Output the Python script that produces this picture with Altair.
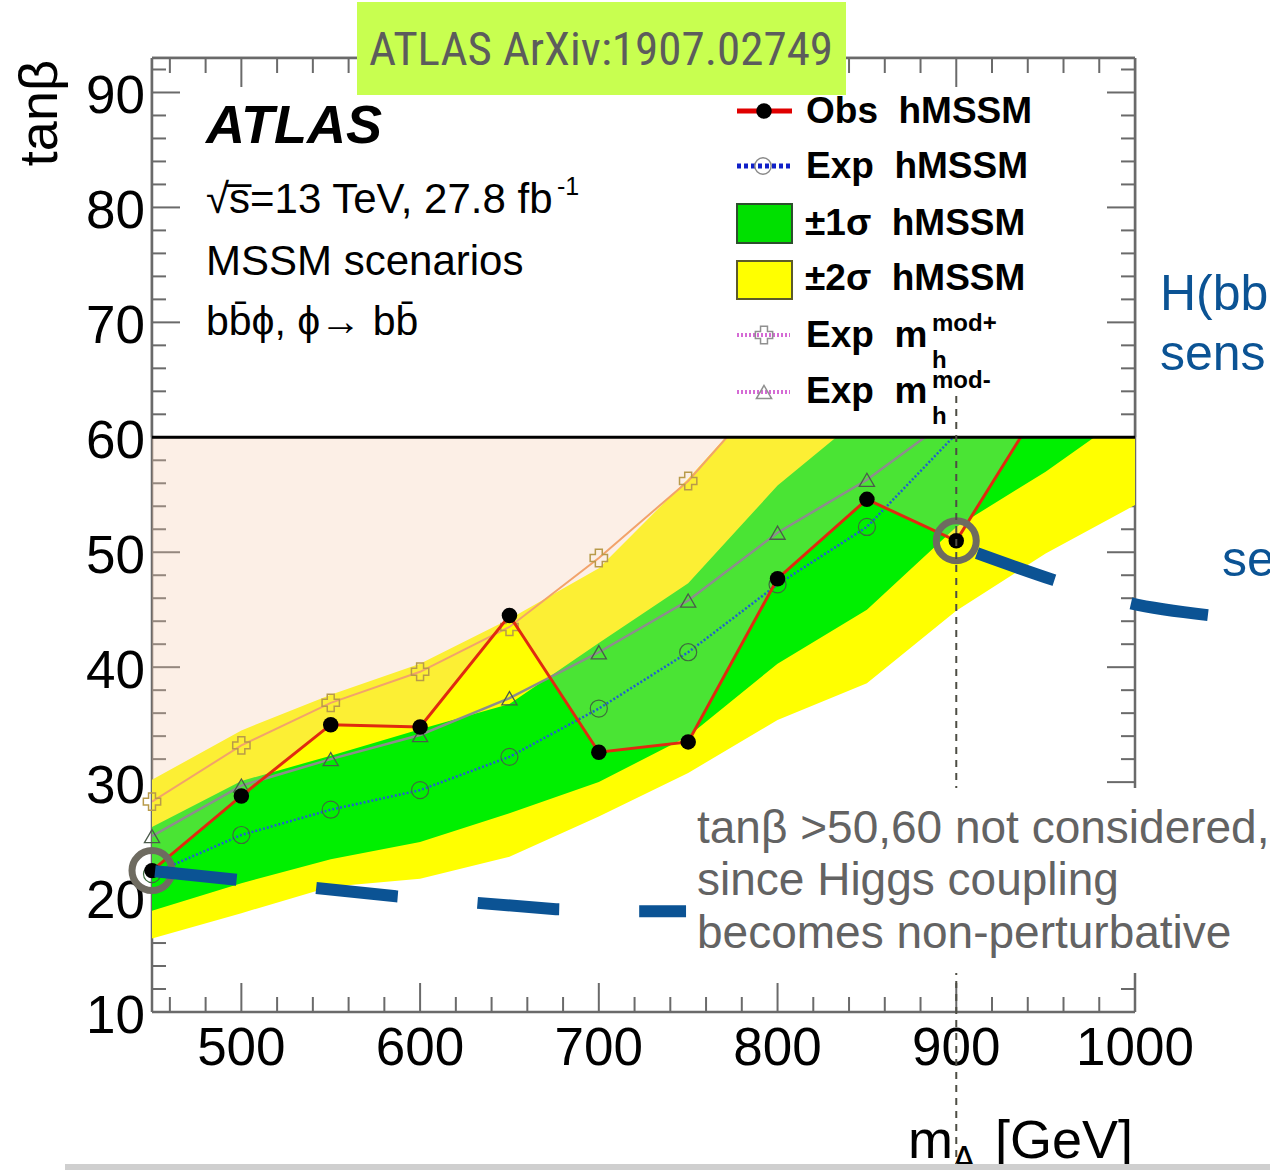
import altair as alt
import pandas as pd

# ---------------------------------------------------------------------------
# 95% CL limits on tan(beta) versus m_A, b b phi, phi -> b b search
# ---------------------------------------------------------------------------
m_A = [450, 500, 550, 600, 650, 700, 750, 800, 850, 900, 950, 1000]
obs_hmssm = [22.3, 28.8, 35.0, 34.8, 44.5, 32.6, 33.5, 47.7, 54.6, 51.0, 63.5, 72.0]
exp_hmssm = [22.0, 25.4, 27.6, 29.3, 32.2, 36.4, 41.3, 47.2, 52.2, 60.3, 68.0, 76.0]
one_sigma_lo = [18.8, 21.2, 23.3, 24.8, 27.3, 30.0, 34.0, 40.3, 45.0, 52.2, 57.0, 62.5]
one_sigma_hi = [26.1, 30.1, 32.3, 34.6, 36.8, 42.1, 47.3, 55.8, 62.2, 70.0, 77.0, 84.0]
two_sigma_lo = [16.4, 18.6, 20.9, 21.6, 23.5, 27.0, 30.8, 35.4, 38.6, 44.9, 49.9, 54.1]
two_sigma_hi = [30.2, 34.5, 37.6, 40.3, 44.2, 48.6, 56.4, 65.0, 73.0, 81.0, 89.0, 97.0]

m_mhmod_plus = [450, 500, 550, 600, 650, 700, 750, 800]
exp_mhmod_plus = [28.3, 33.2, 36.9, 39.6, 43.5, 49.5, 56.2, 65.0]
m_mhmod_minus = [450, 500, 550, 600, 650, 700, 750, 800, 850, 900]
exp_mhmod_minus = [25.3, 29.7, 32.0, 34.1, 37.3, 41.3, 45.8, 51.7, 56.3, 62.0]

tanb_cut = 60            # above this tan(beta) the coupling is non-perturbative
circled_masses = [450, 900]

# pointer curves from the circled points towards the notes (m_A, tan(beta))
ptr1_m = [451.7, 586.5, 676.0, 721.4, 748.8]
ptr1_t = [22.25, 20.07, 18.94, 18.77, 18.77]
ptr2_m = [911.6, 954.7, 997.2, 1040.8]
ptr2_t = [49.92, 47.57, 45.57, 44.53]
guide_m = 900
guide_t = [63.6, -3.4]

x_tick_labels = [500, 600, 700, 800, 900, 1000]
y_tick_labels = [10, 20, 30, 40, 50, 60, 70, 80, 90]
x_major = [500, 600, 700, 800, 900]
x_minor = [v for v in range(460, 1000, 20) if v % 100]
y_major = [20, 30, 40, 50, 60, 70, 80, 90]
y_minor = [v for v in range(12, 93, 2) if v % 10]

X_DOM = [450, 1000]
Y_DOM = [10, 93]

# ---------------------------------------------------------------------------
OX, OY = 152, 58          # plot origin on the page
W, H = 983, 954           # plot area
SANS = "Liberation Sans, Arial, Helvetica, sans-serif"
NARROW = "Liberation Sans Narrow, Roboto Condensed, DejaVu Sans Condensed, Liberation Sans, sans-serif"
FRAME = "#6a6a6a"
BLUE = "#0b5394"
NOTE = "#636363"

XS = alt.Scale(domain=X_DOM, nice=False, zero=False)
YS = alt.Scale(domain=Y_DOM, nice=False, zero=False)


def X(f):
    return alt.X(f, type="quantitative", scale=XS, axis=None)


def Y(f):
    return alt.Y(f, type="quantitative", scale=YS, axis=None)


ONE = pd.DataFrame({"k": [0]})


def px(v):
    return alt.value(v - OX)


def py(v):
    return alt.value(v - OY)


def text(s, x, y, size, color="black", weight="normal", style="normal",
         align="left", font=SANS, angle=0):
    return alt.Chart(ONE).mark_text(
        text=s, fontSize=size, color=color, fontWeight=weight, fontStyle=style,
        align=align, baseline="alphabetic", font=font, angle=angle,
    ).encode(x=px(x), y=py(y))


def hline(x1, x2, y, color, width, dash=None):
    kw = dict(color=color, strokeWidth=width, strokeCap="butt")
    if dash:
        kw["strokeDash"] = dash
    return alt.Chart(ONE).mark_rule(**kw).encode(x=px(x1), x2=px(x2), y=py(y))


def box(x1, y1, x2, y2, fill, stroke=None, sw=0):
    kw = dict(fill=fill, opacity=1)
    if stroke:
        kw.update(stroke=stroke, strokeWidth=sw)
    return alt.Chart(ONE).mark_rect(**kw).encode(x=px(x1), x2=px(x2), y=py(y1), y2=py(y2))


def symbol(x, y, shape, size, filled, color, sw=1.5):
    return alt.Chart(ONE).mark_point(
        shape=shape, size=size, filled=filled, color=color, strokeWidth=sw, opacity=1
    ).encode(x=px(x), y=py(y))


# ---- tables ---------------------------------------------------------------
limits = pd.DataFrame({
    "m": m_A, "obs": obs_hmssm, "exp": exp_hmssm,
    "lo1": one_sigma_lo, "hi1": one_sigma_hi,
    "lo2": two_sigma_lo, "hi2": two_sigma_hi,
    "cut": [tanb_cut] * len(m_A),
})
mhmod_p = pd.DataFrame({"m": m_mhmod_plus, "t": exp_mhmod_plus})
mhmod_m = pd.DataFrame({"m": m_mhmod_minus, "t": exp_mhmod_minus})
ptr1 = pd.DataFrame({"m": ptr1_m, "t": ptr1_t})
ptr2 = pd.DataFrame({"m": ptr2_m, "t": ptr2_t})
guide = pd.DataFrame({"m": [guide_m], "t0": [guide_t[0]], "t1": [guide_t[1]]})

frame_v = pd.DataFrame({"m": X_DOM, "t0": [Y_DOM[0]] * 2, "t1": [Y_DOM[1]] * 2})
frame_v_top = pd.DataFrame({"m": X_DOM, "t0": [tanb_cut] * 2, "t1": [Y_DOM[1]] * 2})
frame_h = pd.DataFrame({"t": Y_DOM, "m0": [X_DOM[0]] * 2, "m1": [X_DOM[1]] * 2})
cover = pd.DataFrame({"m0": [X_DOM[0]], "m1": [X_DOM[1]], "t0": [tanb_cut], "t1": [Y_DOM[1]]})
cut_line = pd.DataFrame({"t": [tanb_cut]})

xmaj = pd.DataFrame({"m": x_major})
xmin = pd.DataFrame({"m": x_minor})
ymaj = pd.DataFrame({"t": y_major})
ymin = pd.DataFrame({"t": y_minor})
xlab = pd.DataFrame({"m": x_tick_labels})
ylab = pd.DataFrame({"t": y_tick_labels})


def ticks(upper_only=False):
    out = []
    for df, ln in ((xmaj, 29), (xmin, 15)):
        if not upper_only:
            out.append(alt.Chart(df).mark_rule(color=FRAME, strokeWidth=2).encode(
                x=X("m"), y=alt.value(H), y2=alt.value(H - ln)))
        out.append(alt.Chart(df).mark_rule(color=FRAME, strokeWidth=2).encode(
            x=X("m"), y=alt.value(0), y2=alt.value(ln)))
    for df, ln in ((ymaj, 28), (ymin, 14)):
        base = alt.Chart(df)
        if upper_only:
            base = base.transform_filter(f"datum.t > {tanb_cut}")
        out.append(base.mark_rule(color=FRAME, strokeWidth=2).encode(
            y=Y("t"), x=alt.value(0), x2=alt.value(ln)))
        out.append(base.mark_rule(color=FRAME, strokeWidth=2).encode(
            y=Y("t"), x=alt.value(W), x2=alt.value(W - ln)))
    return out


def frame(upper_only=False):
    v = frame_v_top if upper_only else frame_v
    out = [alt.Chart(v).mark_rule(color=FRAME, strokeWidth=2.5).encode(
        x=X("m"), y=Y("t0"), y2="t1")]
    h = frame_h if not upper_only else frame_h[frame_h["t"] == Y_DOM[1]]
    out.append(alt.Chart(h).mark_rule(color=FRAME, strokeWidth=2.5).encode(
        y=Y("t"), x=X("m0"), x2="m1"))
    return out


layers = []
layers += frame() + ticks()

# expected bands
layers.append(alt.Chart(limits).mark_area(color="#ffff00", opacity=1, clip=True).encode(
    x=X("m"), y=Y("lo2"), y2="hi2"))
layers.append(alt.Chart(limits).mark_area(color="#00f000", opacity=1, clip=True).encode(
    x=X("m"), y=Y("lo1"), y2="hi1"))
# excluded region above the observed limit
layers.append(alt.Chart(limits).mark_area(color="#f5cbad", opacity=0.3, clip=True).encode(
    x=X("m"), y=Y("obs"), y2="cut"))

# m_h^mod+ expected
layers.append(alt.Chart(mhmod_p).mark_line(color="#f2a36b", strokeWidth=2, clip=True).encode(
    x=X("m"), y=Y("t")))
layers.append(alt.Chart(mhmod_p).transform_filter(f"datum.t < {tanb_cut}").mark_point(
    shape="cross", filled=False, color="#b89a4a", size=300, strokeWidth=1.5, opacity=1
).encode(x=X("m"), y=Y("t")))
# m_h^mod- expected
layers.append(alt.Chart(mhmod_m).mark_line(color="#8d8d8d", strokeWidth=2.5, clip=True).encode(
    x=X("m"), y=Y("t")))
layers.append(alt.Chart(mhmod_m).transform_filter(f"datum.t < {tanb_cut}").mark_point(
    shape="triangle-up", filled=False, color="#4b5b4b", size=230, strokeWidth=1.3, opacity=1
).encode(x=X("m"), y=Y("t")))
# hMSSM expected
layers.append(alt.Chart(limits).mark_line(color="#2060d0", strokeWidth=2.5, strokeDash=[2, 2],
                                          clip=True).encode(x=X("m"), y=Y("exp")))
layers.append(alt.Chart(limits).transform_filter(f"datum.exp < {tanb_cut}").mark_point(
    shape="circle", filled=False, color="#3d6b3d", size=290, strokeWidth=1.2, opacity=1
).encode(x=X("m"), y=Y("exp")))
# hMSSM observed
layers.append(alt.Chart(limits).mark_line(color="#e02a10", strokeWidth=3, clip=True).encode(
    x=X("m"), y=Y("obs")))
layers.append(alt.Chart(limits).transform_filter(f"datum.obs < {tanb_cut}").mark_point(
    shape="circle", filled=True, color="black", size=240, opacity=1
).encode(x=X("m"), y=Y("obs")))

# blank region above the cut, frame redrawn there
layers.append(alt.Chart(cover).mark_rect(color="white", opacity=1).encode(
    x=X("m0"), x2="m1", y=Y("t0"), y2="t1"))
layers += frame(upper_only=True) + ticks(upper_only=True)
layers.append(alt.Chart(cut_line).mark_rule(color="black", strokeWidth=3).encode(
    y=Y("t"), x=alt.value(0), x2=alt.value(W)))

# legend
layers += [
    hline(737, 792, 111, "#e00000", 5), symbol(764, 111, "circle", 240, True, "black"),
    hline(737, 790, 166, "#1020c8", 5, [4, 3]), symbol(763, 166, "circle", 270, False, "#8a8a8a"),
    box(737, 204, 792, 243, "#00e000", "#2d4f2d", 2),
    box(737, 261, 792, 299, "#ffff00", "#5c5a2a", 2),
    hline(737, 790, 335, "#d56bd5", 4, [2, 2]), symbol(764, 335, "cross", 300, False, "#909090"),
    hline(737, 790, 392, "#d56bd5", 4, [2, 2]), symbol(764, 392, "triangle-up", 230, False, "#909090"),
]
NB = "\u00a0\u00a0"
layers += [
    text("Obs" + NB + "hMSSM", 806, 123, 37, weight="bold"),
    text("Exp" + NB + "hMSSM", 806, 178, 37, weight="bold"),
    text("\u00b11\u03c3" + NB + "hMSSM", 805, 235, 37, weight="bold"),
    text("\u00b12\u03c3" + NB + "hMSSM", 805, 290, 37, weight="bold"),
    text("Exp" + NB + "m", 806, 347, 37, weight="bold"),
    text("mod+", 932, 331, 24, weight="bold"),
    text("h", 932, 368, 24, weight="bold"),
    text("Exp" + NB + "m", 806, 403, 37, weight="bold"),
    text("mod-", 932, 388, 24, weight="bold"),
    text("h", 932, 424, 24, weight="bold"),
]

# experiment label
layers += [
    text("ATLAS", 206, 143, 54, weight="bold", style="italic"),
    text("\u221as\u0305=13 TeV, 27.8 fb", 206, 213, 42),
    text("-1", 557, 195, 25),
    text("MSSM scenarios", 206, 275, 42),
    text("bb\u0304\u03d5, \u03d5\u2192 bb\u0304", 206, 335, 41),
]

# axis labels and titles
layers.append(alt.Chart(xlab).mark_text(
    fontSize=53, font=SANS, align="center", baseline="alphabetic", color="black"
).encode(x=X("m"), y=alt.value(H + 53), text=alt.Text("m:Q", format="d")))
layers.append(alt.Chart(ylab).mark_text(
    fontSize=53, font=SANS, align="right", baseline="alphabetic", dx=-7, dy=21, color="black"
).encode(y=Y("t"), x=alt.value(0), text=alt.Text("t:Q", format="d")))
layers += [
    text("tan\u03b2", 57, 60, 54, align="right", angle=270),
    text("m", 908, 1158, 54),
    text("A", 952, 1172, 36),
    text("[GeV]", 1133, 1158, 54, align="right"),
]

# highlighted points and pointers to the notes
layers.append(alt.Chart(limits).transform_filter(
    alt.FieldOneOfPredicate(field="m", oneOf=circled_masses)
).mark_point(shape="circle", filled=False, color="#6e6b60", size=1600, strokeWidth=7, opacity=1
             ).encode(x=X("m"), y=Y("obs")))
layers.append(alt.Chart(ptr1).mark_line(
    color=BLUE, strokeWidth=12, strokeDash=[82, 80], strokeCap="butt"
).encode(x=X("m"), y=Y("t")))
layers.append(alt.Chart(ptr2).mark_line(
    color=BLUE, strokeWidth=12, strokeDash=[82, 80], interpolate="monotone", strokeCap="butt"
).encode(x=X("m"), y=Y("t")))
layers.append(alt.Chart(guide).mark_rule(color="#4d4d44", strokeWidth=2, strokeDash=[7, 6]).encode(
    x=X("m"), y=Y("t0"), y2="t1"))

# reference tag, side notes, slide rule
layers += [
    box(357, 2, 846, 95, "#c8ff50"),
    text("ATLAS ArXiv:1907.02749", 369, 65, 47, color="#5c5c5c", font=NARROW),
    text("H(bb", 1160, 310, 50, color=BLUE),
    text("sens", 1160, 370, 50, color=BLUE),
    text("se", 1222, 576, 50, color=BLUE),
    box(690, 788, 1270, 973, "white"),
    text("tan\u03b2 >50,60 not considered,", 697, 843, 46, color=NOTE),
    text("since Higgs coupling", 697, 895, 46, color=NOTE),
    text("becomes non-perturbative", 697, 948, 46, color=NOTE),
    hline(65, 1270, 1167, "#cfcfcf", 6),
]

chart = alt.layer(*layers).properties(
    width=W, height=H,
    padding={"left": OX, "top": OY, "right": 1270 - OX - W, "bottom": 1170 - OY - H},
    autosize=alt.AutoSizeParams(type="none"),
    background="white",
).configure_view(stroke=None)

chart.save("out.html", embed_options={"renderer": "svg", "actions": False})
